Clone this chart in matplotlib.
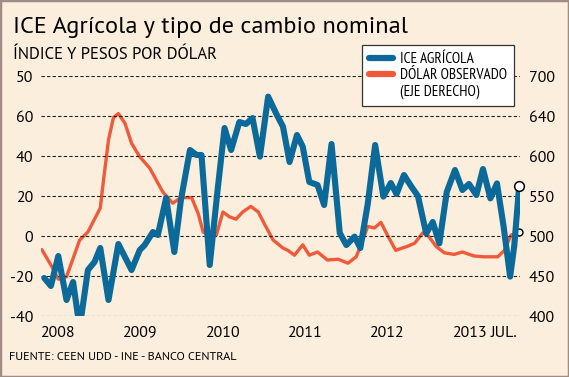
"""
Grafico del ICE Agricola y del dolar observado (eje derecho),
con dos ejes verticales y la leyenda en un recuadro blanco.
"""
import matplotlib
matplotlib.use('Agg')
import matplotlib.pyplot as plt
from matplotlib.lines import Line2D
from matplotlib.patches import Rectangle

# ICE agricola (indice, eje izquierdo)
ice_fecha = [2007.84, 2007.92, 2008.01, 2008.11, 2008.19, 2008.27, 2008.37,
             2008.45, 2008.52, 2008.62, 2008.74, 2008.90, 2009.00, 2009.06,
             2009.16, 2009.22, 2009.32, 2009.42, 2009.50, 2009.61, 2009.69,
             2009.75, 2009.85, 2009.95, 2010.03, 2010.11, 2010.21, 2010.29,
             2010.37, 2010.46, 2010.56, 2010.66, 2010.74, 2010.82, 2010.91,
             2010.98, 2011.06, 2011.16, 2011.24, 2011.33, 2011.43, 2011.51,
             2011.61, 2011.68, 2011.77, 2011.86, 2011.96, 2012.05, 2012.12,
             2012.21, 2012.30, 2012.38, 2012.48, 2012.56, 2012.64, 2012.73,
             2012.83, 2012.92, 2013.00, 2013.09, 2013.17, 2013.26, 2013.34,
             2013.42, 2013.50, 2013.55, 2013.61]
ice = [-21, -25, -10, -32, -23, -46, -17, -13, -6, -32,
       -4, -17, -7, -4.5, 2, 0.5, 19, -8, 18, 43,
       40.5, 40.5, -14.5, 24.6, 54, 43, 57, 56, 59, 39.7,
       69.7, 61, 54.7, 37, 50.5, 44.7, 27, 25.5, 15.5, 46,
       1.5, -4.5, -0.3, -6, 16, 45.5, 19.7, 26.5, 21, 30.5,
       24.7, 20, 1.3, 7, -3.7, 22, 33, 23, 26, 20.5,
       33.5, 18.8, 26.3, 5, -20.3, -5, 25]

# Dolar observado (pesos por dolar, eje derecho)
dolar_fecha = [2007.81, 2007.93, 2008.01, 2008.11, 2008.27, 2008.37, 2008.52,
               2008.56, 2008.62, 2008.68, 2008.74, 2008.82, 2008.90, 2009.00,
               2009.12, 2009.20, 2009.28, 2009.40, 2009.50, 2009.63, 2009.71,
               2009.77, 2009.85, 2009.93, 2010.01, 2010.09, 2010.17, 2010.25,
               2010.35, 2010.44, 2010.52, 2010.62, 2010.74, 2010.80, 2010.88,
               2010.98, 2011.06, 2011.16, 2011.28, 2011.41, 2011.53, 2011.63,
               2011.71, 2011.77, 2011.85, 2011.93, 2012.01, 2012.11, 2012.19,
               2012.25, 2012.34, 2012.44, 2012.50, 2012.60, 2012.70, 2012.82,
               2012.92, 2013.06, 2013.18, 2013.35, 2013.43, 2013.51, 2013.61]
dolar = [483, 462, 446, 449, 495, 505, 535, 570, 620, 648,
         653, 641, 616, 599, 585, 570, 555, 541, 548, 548,
         528, 505, 500, 501, 530, 524, 521, 530, 537, 530,
         514, 495, 485, 482, 476, 489, 476, 480, 470, 471,
         466, 474, 495, 512, 510, 517, 501, 482, 485, 487,
         491, 504, 501, 487, 479, 477, 480, 475, 474, 474,
         482, 501, 505]

x_ticks = [2008, 2009, 2010, 2011, 2012, 2013, 2013.42]
x_labels = ['2008', '2009', '2010', '2011', '2012', '2013', 'JUL.']
izq_ticks = [-40, -20, 0, 20, 40, 60, 80]
izq_labels = ['-40', '-20', '0', '20', '40', '60', '50']
der_ticks = [400, 450, 500, 550, 600, 650, 700]
der_labels = ['400', '450', '500', '550', '600', '640', '700']

FONDO = '#FCEEDC'
AZUL = '#0B6A9A'
NARANJO = '#EF5A3A'
NUM = ['PT Sans', 'DejaVu Sans']
ANGOSTA = ['PT Sans Narrow', 'DejaVu Sans']


def setup_axes(fig):
    """
    Crea los dos ejes (izquierdo para el indice, derecho para el dolar)
    sin bordes y con lineas guia punteadas.
    """
    W, H = 569, 377
    ax = fig.add_axes([41 / W, 1 - 316 / H, (520 - 41) / W, (316 - 76) / H])
    ax2 = ax.twinx()
    ax.set_zorder(ax2.get_zorder() + 1)
    ax.patch.set_visible(False)
    ax2.patch.set_visible(False)
    for a in (ax, ax2):
        for s in a.spines.values():
            s.set_visible(False)
    ax.set_xlim(2007.80, 2013.62)
    ax.set_ylim(-40, 80)
    ax2.set_ylim(400, 700)
    ax.set_yticks(izq_ticks)
    ax.set_yticklabels(izq_labels, family=NUM, fontsize=11.5)
    ax2.set_yticks(der_ticks)
    ax2.set_yticklabels(der_labels, family=NUM, fontsize=11.5)
    ax.set_xticks(x_ticks)
    ax.set_xticklabels(x_labels, family=NUM, fontsize=11.5)
    ax.tick_params(axis='y', length=0, pad=5.8)
    ax2.tick_params(axis='y', length=0, pad=6.5)
    ax.tick_params(axis='x', length=0, pad=7)
    ax2.grid(False)
    ax.yaxis.grid(True, color='#222222', linestyle=(0, (3, 2)), lw=0.8)
    ax.xaxis.grid(False)
    ax.set_axisbelow(True)
    return ax, ax2


def plot_series(ax, ax2):
    """
    Dibuja las dos series y los circulos del ultimo dato.
    """
    ax2.plot(dolar_fecha, dolar, color=NARANJO, lw=2.4,
             solid_joinstyle='round', solid_capstyle='round')
    ax.plot(ice_fecha, ice, color=AZUL, lw=4.4,
            solid_joinstyle='round', solid_capstyle='round')
    ax.plot(ice_fecha[-1], ice[-1], 'o', ms=7, mfc='white', mec='black',
            mew=1.1, clip_on=False, zorder=5)
    ax2.plot(dolar_fecha[-1], dolar[-1], 'o', ms=5, mfc='white', mec='black',
             mew=1.0, clip_on=False, zorder=5)


def add_text(fig):
    """
    Titulo, subtitulo, fuente, leyenda y marco exterior.
    """
    W, H = 569, 377
    fig.text(13 / W, 1 - 33 / H, 'ICE Agrícola y tipo de cambio nominal',
             family=NUM, fontsize=17.5, va='baseline', ha='left')
    fig.text(13 / W, 1 - 59 / H, 'ÍNDICE Y PESOS POR DÓLAR',
             family=NUM, fontsize=12, va='baseline', ha='left')
    fig.text(9 / W, 1 - 360 / H, 'FUENTE: CEEN UDD - INE - BANCO CENTRAL',
             family=NUM, fontsize=8.8, va='baseline', ha='left')

    handles = [Line2D([], [], color=AZUL, lw=4.5, solid_capstyle='round'),
               Line2D([], [], color=NARANJO, lw=4.5, solid_capstyle='round'),
               Line2D([], [], lw=0)]
    labels = ['ICE AGRÍCOLA', 'DÓLAR OBSERVADO', '(EJE DERECHO)']
    leg = fig.legend(handles, labels, loc='upper left',
                     bbox_to_anchor=(362 / W, 1 - 45 / H), borderaxespad=0,
                     prop={'family': ANGOSTA, 'size': 11},
                     fancybox=False, framealpha=1, facecolor='white',
                     edgecolor='#333333', handlelength=1.6,
                     handletextpad=0.45, borderpad=0.45, labelspacing=0.15)
    leg.get_frame().set_linewidth(0.9)

    fig.patches.append(Rectangle((0, 0), 1, 1, transform=fig.transFigure,
                                 fill=False, edgecolor='#A08C84', lw=2.5))


def main():
    """
    Arma la figura completa y la guarda en out.png
    """
    fig = plt.figure(figsize=(5.69, 3.77), dpi=100, facecolor=FONDO)
    ax, ax2 = setup_axes(fig)
    plot_series(ax, ax2)
    add_text(fig)
    fig.savefig('out.png', dpi=100, facecolor=FONDO)


if __name__ == '__main__':
    main()
